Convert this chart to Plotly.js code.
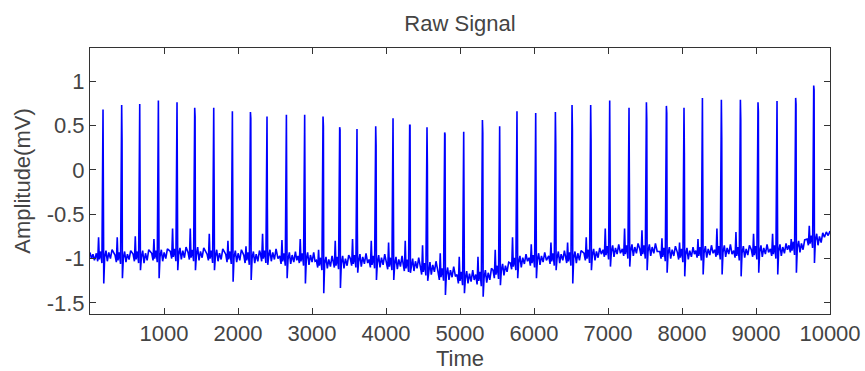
<!DOCTYPE html>
<html>
<head>
<meta charset="utf-8">
<script src="https://cdn.plot.ly/plotly-3.0.1.min.js"></script>
<style>html,body{margin:0;padding:0;background:#fff;}#chart{width:865px;height:371px;}</style>
</head>
<body>
<div id="chart"></div>
<script>
// Raw ECG-like signal
var time = [
0,20,40,60,
86,104,116,126,144,161,176,181,186,198,216,234,254,276,298,
338,356,368,378,396,413,428,433,438,450,468,486,506,528,550,
582,600,612,622,640,657,672,677,682,694,712,730,750,772,794,
834,852,864,874,892,909,924,929,934,946,964,982,1002,1024,1046,
1086,1104,1116,1126,1144,1161,1176,1181,1186,1198,1216,1234,1254,1276,1298,
1325,1343,1355,1365,1383,1400,1415,1420,1425,1437,1455,1473,1493,1515,1537,
1582,1600,1612,1622,1640,1657,1672,1677,1682,1694,1712,1730,1750,1772,1794,
1834,1852,1864,1874,1892,1909,1924,1929,1934,1946,1964,1982,2002,2024,2046,
2078,2096,2108,2118,2136,2153,2168,2173,2178,2190,2208,2226,2246,2268,2290,
2302,2320,2332,2342,2360,2377,2392,2397,2402,2414,2432,2450,2470,2492,2514,
2540,
2564,2582,2594,2604,2622,2639,2654,2659,2664,2676,2694,2712,2732,2754,2776,
2794,
2811,2829,2841,2851,2869,2886,2901,2906,2911,2923,2941,2959,2979,3001,3023,
3041,
3059,3077,3089,3099,3117,3134,3149,3154,3159,3171,3189,3207,3227,3249,3271,
3284,3302,3314,3324,3342,3359,3374,3379,3384,3396,3414,3432,3452,3474,3496,
3518,3536,3548,3558,3576,3593,3608,3613,3618,3630,3648,3666,3686,3708,3730,
3752,
3771,3789,3801,3811,3829,3846,3861,3866,3871,3883,3901,3919,3939,3961,3983,
4005,4023,4035,4045,4063,4080,4095,4100,4105,4117,4135,4153,4173,4195,4217,
4230,4248,4260,4270,4288,4305,4320,4325,4330,4342,4360,4378,4398,4420,4442,
4464,4482,4494,4504,4522,4539,4554,4559,4564,4576,4594,4612,4632,4654,4676,
4703,4721,4733,4743,4761,4778,4793,4798,4803,4815,4833,4851,4871,4893,4915,
4938,
4960,4978,4990,5000,5018,5035,5050,5055,5060,5072,5090,5108,5128,5150,5172,
5192,
5213,5231,5243,5253,5271,5288,5303,5308,5313,5325,5343,5361,5381,5403,5425,
5446,5464,5476,5486,5504,5521,5536,5541,5546,5558,5576,5594,5614,5636,5658,
5680,5698,5710,5720,5738,5755,5770,5775,5780,5792,5810,5828,5848,5870,5892,
5912,
5933,5951,5963,5973,5991,6008,6023,6028,6033,6045,6063,6081,6101,6123,6145,
6168,
6199,6217,6229,6239,6257,6274,6289,6294,6299,6311,6329,6347,6367,6389,6411,
6424,6442,6454,6464,6482,6499,6514,6519,6524,6536,6554,6572,6592,6614,6636,
6676,6694,6706,6716,6734,6751,6766,6771,6776,6788,6806,6824,6844,6866,6888,
6910,
6933,6951,6963,6973,6991,7008,7023,7028,7033,7045,7063,7081,7101,7123,7145,
7168,
7194,7212,7224,7234,7252,7269,7284,7289,7294,7306,7324,7342,7362,7384,7406,
7429,7447,7459,7469,7487,7504,7519,7524,7529,7541,7559,7577,7597,7619,7641,
7665,
7699,7717,7729,7739,7757,7774,7789,7794,7799,7811,7829,7847,7867,7889,7911,
7937,7955,7967,7977,7995,8012,8027,8032,8037,8049,8067,8085,8105,8127,8149,
8168,
8186,8204,8216,8226,8244,8261,8276,8281,8286,8298,8316,8334,8354,8376,8398,
8420,
8442,8460,8472,8482,8500,8517,8532,8537,8542,8554,8572,8590,8610,8632,8654,
8676,
8699,8717,8729,8739,8757,8774,8789,8794,8799,8811,8829,8847,8867,8889,8911,
8937,8955,8967,8977,8995,9012,9027,9032,9037,9049,9067,9085,9105,9127,9149,
9170,
9194,9212,9224,9234,9252,9269,9284,9289,9294,9306,9324,9342,9362,9384,9406,
9425,
9446,9464,9476,9486,9504,9521,9536,9541,9546,9558,9576,9594,9614,9636,9658,
9690,9708,9720,9730,9748,9765,9780,9785,9790,9802,9820,9838,9858,9880,9902,
9925,9950,9975,10000
];

var amplitude = [
-0.93,-1.00,-0.95,-1.02,
-0.94,-1.03,-0.76,-1.01,-0.92,-1.05,0.68,-0.37,-1.28,-0.99,-0.91,-1.03,-0.93,-1.00,-0.90,
-0.96,-1.04,-0.76,-1.02,-0.93,-1.06,0.73,0.34,-1.22,-1.00,-0.92,-1.04,-0.95,-1.01,-0.91,
-0.95,-1.03,-0.75,-1.01,-0.92,-1.05,0.74,-0.43,-1.13,-0.99,-0.91,-1.05,-0.94,-1.02,-0.90,
-0.94,-1.02,-0.78,-1.00,-0.91,-1.04,0.78,-0.30,-1.22,-0.98,-0.90,-1.03,-0.93,-1.00,-0.89,
-0.92,-1.00,-0.66,-0.98,-0.89,-1.03,0.76,-0.45,-1.13,-0.96,-0.88,-1.01,-0.91,-0.99,-0.87,
-0.93,-1.01,-0.66,-0.99,-0.90,-1.03,0.70,0.60,-1.13,-0.97,-0.87,-1.02,-0.92,-0.99,-0.88,
-0.95,-1.02,-0.72,-1.00,-0.91,-1.05,0.70,-0.11,-1.13,-0.98,-0.90,-1.03,-0.94,-1.01,-0.89,
-0.95,-1.04,-0.80,-1.01,-0.92,-1.06,0.66,-0.40,-1.26,-0.99,-0.91,-1.04,-0.94,-1.02,-0.90,
-0.96,-1.05,-0.86,-1.02,-0.93,-1.07,0.65,0.58,-1.24,-1.00,-0.92,-1.05,-0.95,-1.03,-0.91,
-0.94,-1.03,-0.72,-1.00,-0.91,-1.05,0.60,-0.44,-1.07,-0.98,-0.90,-1.03,-0.93,-1.01,-0.89,
-1.00,
-0.97,-1.06,-0.79,-1.03,-0.94,-1.08,0.62,-0.41,-1.22,-1.01,-0.93,-1.06,-0.96,-1.04,-0.92,
-1.02,
-0.97,-1.05,-0.78,-1.03,-0.94,-1.08,0.62,-0.33,-1.28,-1.01,-0.93,-1.07,-0.96,-1.04,-0.93,
-1.03,
-1.02,-1.10,-0.90,-1.08,-0.99,-1.13,0.60,0.49,-1.39,-1.06,-0.98,-1.11,-1.01,-1.09,-0.97,
-1.02,-1.10,-0.80,-1.08,-0.98,-1.12,0.48,0.45,-1.33,-1.06,-0.97,-1.11,-1.00,-1.08,-0.96,
-1.00,-1.08,-0.78,-1.06,-0.96,-1.10,0.46,-0.68,-1.16,-1.04,-0.95,-1.09,-0.98,-1.06,-0.94,
-1.05,
-1.01,-1.10,-0.80,-1.07,-0.97,-1.11,0.49,0.28,-1.24,-1.05,-0.96,-1.10,-0.99,-1.07,-0.95,
-1.03,-1.12,-0.82,-1.09,-0.99,-1.13,0.58,-0.50,-1.24,-1.07,-0.98,-1.12,-1.01,-1.09,-0.97,
-1.05,-1.14,-0.80,-1.11,-1.01,-1.15,0.50,0.50,-1.16,-1.09,-1.00,-1.14,-1.03,-1.11,-0.99,
-1.09,-1.18,-0.85,-1.15,-1.05,-1.19,0.48,0.06,-1.25,-1.13,-1.04,-1.18,-1.07,-1.15,-1.03,
-1.15,-1.24,-0.94,-1.21,-1.11,-1.25,0.42,0.40,-1.41,-1.19,-1.10,-1.24,-1.13,-1.21,-1.09,
-1.20,
-1.18,-1.28,-0.98,-1.25,-1.15,-1.30,0.43,-0.47,-1.39,-1.23,-1.14,-1.28,-1.17,-1.26,-1.13,
-1.24,
-1.18,-1.29,-0.98,-1.25,-1.15,-1.31,0.56,0.42,-1.43,-1.22,-1.13,-1.27,-1.16,-1.24,-1.11,
-1.13,-1.22,-0.90,-1.18,-1.08,-1.23,0.49,-0.36,-1.30,-1.14,-1.06,-1.19,-1.08,-1.15,-1.04,
-1.05,-1.12,-0.76,-1.09,-0.99,-1.13,0.66,-0.48,-1.22,-1.05,-0.97,-1.10,-0.99,-1.06,-0.95,
-1.03,
-0.99,-1.08,-0.84,-1.05,-0.96,-1.10,0.64,-0.26,-1.22,-1.02,-0.94,-1.07,-0.97,-1.04,-0.93,
-1.02,
-0.97,-1.06,-0.82,-1.03,-0.94,-1.08,0.65,0.30,-1.13,-1.00,-0.92,-1.05,-0.95,-1.02,-0.91,
-0.97,-1.05,-0.82,-1.03,-0.93,-1.08,0.73,0.45,-1.28,-1.00,-0.92,-1.05,-0.94,-1.02,-0.91,
-0.94,-1.02,-0.76,-1.00,-0.90,-1.05,0.73,0.34,-1.13,-0.97,-0.89,-1.02,-0.92,-0.99,-0.88,
-0.95,
-0.90,-0.98,-0.66,-0.96,-0.86,-1.01,0.78,0.05,-1.09,-0.93,-0.85,-0.98,-0.88,-0.95,-0.84,
-0.94,
-0.89,-0.97,-0.66,-0.95,-0.85,-1.00,0.70,-0.17,-1.09,-0.92,-0.84,-0.97,-0.87,-0.94,-0.83,
-0.89,-0.97,-0.68,-0.95,-0.85,-1.00,0.76,0.56,-1.13,-0.92,-0.84,-0.97,-0.87,-0.94,-0.83,
-0.92,
-0.92,-1.00,-0.77,-0.98,-0.88,-1.03,0.72,0.64,-1.16,-0.95,-0.87,-1.00,-0.90,-0.97,-0.86,
-0.93,-1.01,-0.82,-0.99,-0.89,-1.04,0.70,0.19,-1.20,-0.96,-0.88,-1.01,-0.91,-0.98,-0.87,
-0.95,
-0.91,-0.99,-0.78,-0.97,-0.87,-1.02,0.81,0.20,-1.18,-0.94,-0.86,-0.99,-0.89,-0.96,-0.85,
-0.94,
-0.90,-0.98,-0.66,-0.96,-0.86,-1.01,0.79,0.36,-1.18,-0.93,-0.85,-0.98,-0.88,-0.95,-0.84,
-0.95,
-0.91,-0.99,-0.70,-0.97,-0.87,-1.02,0.79,0.57,-1.20,-0.94,-0.86,-0.99,-0.89,-0.96,-0.85,
-0.90,-0.98,-0.72,-0.96,-0.86,-1.01,0.76,0.66,-1.16,-0.93,-0.85,-0.98,-0.88,-0.95,-0.84,
-0.93,
-0.89,-0.97,-0.72,-0.95,-0.85,-1.00,0.775,0.17,-1.18,-0.92,-0.84,-0.97,-0.87,-0.94,-0.83,
-0.90,
-0.85,-0.93,-0.78,-0.91,-0.81,-0.96,0.81,0.74,-1.16,-0.88,-0.80,-0.93,-0.83,-0.90,-0.79,
-0.78,-0.85,-0.63,-0.83,-0.74,-0.88,0.95,0.90,-1.05,-0.80,-0.72,-0.85,-0.75,-0.82,-0.71,
-0.76,-0.70,-0.74,-0.69
];

var xTickVals = [1000,2000,3000,4000,5000,6000,7000,8000,9000,10000];
var xTickText = ['1000','2000','3000','4000','5000','6000','7000','8000','9000','10000'];
var yTickVals = [-1.5,-1,-0.5,0,0.5,1];
var yTickText = ['-1.5','-1','-0.5','0','0.5','1'];

var fontFamily = 'Liberation Sans, Arial, sans-serif';
var textColor = '#444444';

var trace = {
  x: time, y: amplitude, type: 'scatter', mode: 'lines',
  line: {color: 'rgb(0,0,255)', width: 1.6},
  hoverinfo: 'skip'
};

var axisCommon = {
  showgrid: false, zeroline: false, showline: true, mirror: 'ticks',
  linecolor: '#333333', linewidth: 1, ticks: 'inside', ticklen: 6,
  tickcolor: '#333333', tickwidth: 1,
  tickfont: {family: fontFamily, size: 22, color: textColor}
};

var layout = {
  width: 865, height: 371,
  margin: {l: 90, r: 35, t: 48, b: 57},
  paper_bgcolor: '#ffffff', plot_bgcolor: '#ffffff',
  showlegend: false,
  title: {text: 'Raw Signal', font: {family: fontFamily, size: 22, color: textColor},
          x: 0.5, xref: 'paper', y: 0.938, yref: 'container', yanchor: 'middle'},
  xaxis: Object.assign({}, axisCommon, {
    range: [0, 10000], tickmode: 'array', tickvals: xTickVals, ticktext: xTickText,
    title: {text: 'Time', font: {family: fontFamily, size: 22, color: textColor}, standoff: 6}
  }),
  yaxis: Object.assign({}, axisCommon, {
    range: [-1.624, 1.372], tickmode: 'array', tickvals: yTickVals, ticktext: yTickText,
    title: {text: 'Amplitude(mV)', font: {family: fontFamily, size: 22, color: textColor}, standoff: 9}
  })
};

Plotly.newPlot('chart', [trace], layout, {staticPlot: true, displayModeBar: false});
</script>
</body>
</html>
